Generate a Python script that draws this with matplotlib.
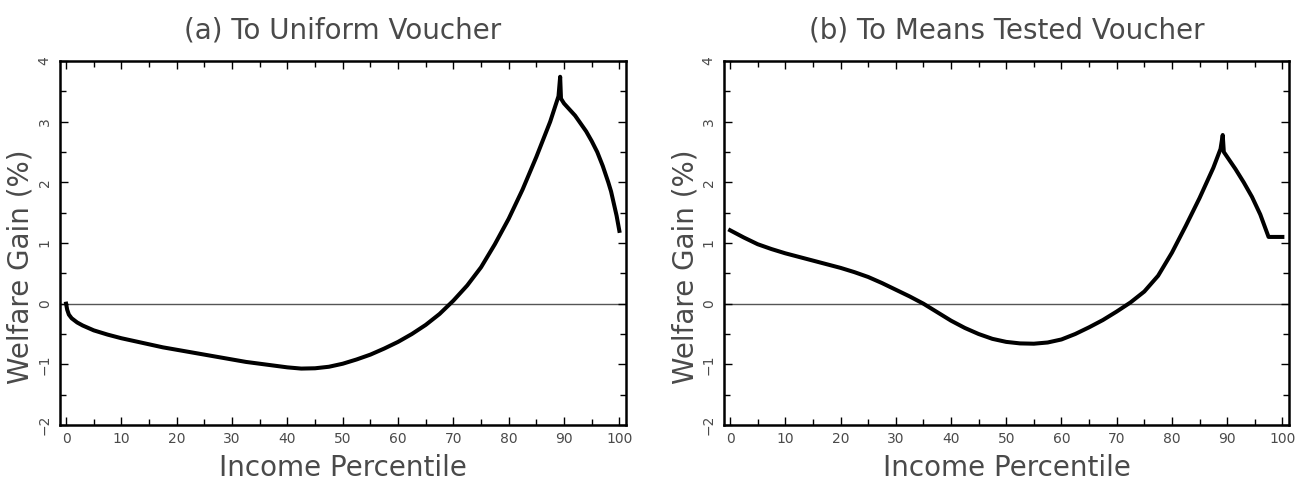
import matplotlib
matplotlib.use("Agg")
import matplotlib.pyplot as plt
from matplotlib.ticker import MultipleLocator, FixedLocator

# Panel (a): To Uniform Voucher
pct_a = [0, 0.2, 0.5, 1, 2, 3, 4, 5, 7.5, 10, 12.5, 15, 17.5, 20, 22.5, 25, 27.5, 30,
         32.5, 35, 37.5, 40, 42.5, 45, 47.5, 50, 52.5, 55, 57.5, 60, 62.5, 65, 67.5, 70,
         72.5, 75, 77.5, 80, 82.5, 85, 87.5, 89, 89.3, 89.45, 90, 91, 92, 93, 94, 95, 96,
         97, 98, 98.5, 99, 99.5, 100]
gain_a = [0.0, -0.1, -0.18, -0.24, -0.31, -0.36, -0.40, -0.44, -0.51, -0.57, -0.62,
          -0.67, -0.72, -0.76, -0.80, -0.84, -0.88, -0.92, -0.96, -0.99, -1.02, -1.05,
          -1.07, -1.065, -1.04, -0.99, -0.92, -0.84, -0.74, -0.63, -0.50, -0.35, -0.17,
          0.05, 0.30, 0.60, 0.98, 1.40, 1.88, 2.42, 3.0, 3.42, 3.74, 3.38, 3.30, 3.20,
          3.10, 2.97, 2.84, 2.68, 2.50, 2.27, 2.00, 1.85, 1.65, 1.45, 1.20]

# Panel (b): To Means Tested Voucher
pct_b = [0, 2.5, 5, 7.5, 10, 12.5, 15, 17.5, 20, 22.5, 25, 27.5, 30, 32.5, 35, 37.5,
         40, 42.5, 45, 47.5, 50, 52.5, 55, 57.5, 60, 62.5, 65, 67.5, 70, 72.5, 75, 77.5,
         80, 82.5, 85, 87.5, 88.8, 89.2, 89.4, 90, 91.5, 93, 94.5, 96, 97.5, 100]
gain_b = [1.21, 1.09, 0.98, 0.90, 0.83, 0.77, 0.71, 0.65, 0.59, 0.52, 0.44, 0.34, 0.23,
          0.12, 0.0, -0.14, -0.28, -0.40, -0.50, -0.58, -0.63, -0.655, -0.66, -0.64,
          -0.59, -0.50, -0.39, -0.27, -0.13, 0.02, 0.20, 0.46, 0.84, 1.28, 1.74, 2.24,
          2.55, 2.78, 2.50, 2.42, 2.22, 2.00, 1.76, 1.47, 1.10, 1.10]

titles = ["(a) To Uniform Voucher", "(b) To Means Tested Voucher"]
xlabel = "Income Percentile"
ylabel = "Welfare Gain (%)"
xticks = [0, 10, 20, 30, 40, 50, 60, 70, 80, 90, 100]
yticks = [-2, -1, 0, 1, 2, 3, 4]
ytick_labels = ["\u22122", "\u22121", "0", "1", "2", "3", "4"]

TXT = "#4a4a4a"
fig = plt.figure(figsize=(12.96, 4.88), dpi=100)
axes = [fig.add_axes([60 / 1296, 63 / 488, 566 / 1296, 364 / 488]),
        fig.add_axes([724 / 1296, 63 / 488, 565 / 1296, 364 / 488])]

for ax, x, y, t in zip(axes, [pct_a, pct_b], [gain_a, gain_b], titles):
    ax.axhline(0, color="#555555", lw=1.0, zorder=1)
    ax.plot(x, y, color="black", lw=2.9, solid_joinstyle="round", zorder=2)
    ax.set_xlim(-1.1, 101.2)
    ax.set_ylim(-2, 4)
    ax.xaxis.set_major_locator(FixedLocator(xticks))
    ax.xaxis.set_minor_locator(MultipleLocator(5))
    ax.yaxis.set_major_locator(FixedLocator(yticks))
    ax.yaxis.set_minor_locator(MultipleLocator(0.5))
    ax.set_xticklabels([str(v) for v in xticks])
    ax.set_yticklabels(ytick_labels, rotation=90, va="center")
    ax.tick_params(which="both", direction="in", top=True, right=True,
                   color="black", width=1.0)
    ax.tick_params(which="major", length=6, labelsize=10, labelcolor=TXT)
    ax.tick_params(which="minor", length=4)
    ax.tick_params(axis="x", pad=5)
    ax.tick_params(axis="y", pad=6)
    for sp in ax.spines.values():
        sp.set_linewidth(1.8)
    ax.set_title(t, fontsize=20, color=TXT, pad=16, family="DejaVu Sans")
    ax.set_xlabel(xlabel, fontsize=20, color=TXT, labelpad=6, family="DejaVu Sans")
    ax.set_ylabel(ylabel, fontsize=20, color=TXT, family="DejaVu Sans")
    ax.yaxis.set_label_coords(-25 / 566, 0.435)

fig.savefig("out.png", dpi=100)
